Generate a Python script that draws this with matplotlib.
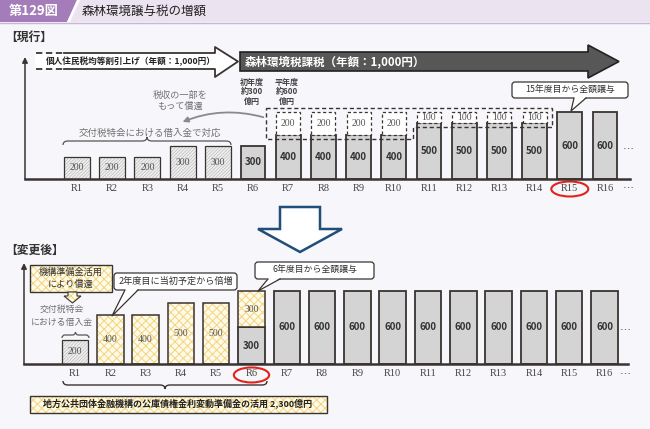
import numpy as np
import matplotlib.pyplot as plt
from matplotlib.patches import Polygon, Rectangle, FancyBboxPatch, Ellipse, FancyArrowPatch, PathPatch
from matplotlib.path import Path

plt.rcParams['font.family'] = ['Noto Sans CJK JP', 'DejaVu Sans']
plt.rcParams['hatch.linewidth'] = 0.7

# ==========================
# Data (億円)
# ==========================
years = [f'R{i}' for i in range(1, 17)]

# 現行
cur_loan = [200, 200, 200, 300, 300] + [0] * 11          # 交付税特会借入金
cur_tax = [0] * 5 + [300, 400, 400, 400, 400, 500, 500, 500, 500, 600, 600]
cur_future = [0] * 6 + [200] * 4 + [100] * 4 + [0, 0]     # 借入金償還分（点線）

# 変更後
new_loan = [200] + [0] * 15
new_tax = [0] * 5 + [300] + [600] * 10
new_reserve = [0, 400, 400, 500, 500, 300] + [0] * 10      # 機構準備金活用

# ==========================
# Style
# ==========================
BG = '#f7f6fa'
INK = '#3a3431'
GRAY_BAR = '#d4d4d4'
HATCH_FACE, HATCH_EDGE = '#efefef', '#b8b8b8'
YEL_FACE, YEL_EDGE = '#fffbea', '#f4d47c'
GRAY_TXT = '#707070'
RED = '#e2231a'
BLUE = '#1f4e7a'
SERIF = 'Liberation Serif'

W, H = 650, 429
fig = plt.figure(figsize=(6.5, 4.29), dpi=100, facecolor=BG)


def chart_axes(left, right, base, top, x0, step, upp):
    ax = fig.add_axes([left / W, 1 - base / H, (right - left) / W, (base - top) / H])
    ax.set_xlim((left - x0) / step, (right - x0) / step)
    ax.set_ylim(0, (base - top) * upp)
    ax.patch.set_alpha(0)
    for s in ['top', 'right', 'left']:
        ax.spines[s].set_visible(False)
    ax.spines['bottom'].set_linewidth(1.8)
    ax.spines['bottom'].set_color(INK)
    ax.set_yticks([])
    x = np.arange(len(years))
    ax.set_xticks(x)
    ax.set_xticklabels(years, fontfamily=SERIF, fontsize=7.5, color='#444')
    ax.tick_params(axis='x', length=0, pad=3.5)
    # y axis arrow
    ax.annotate('', xy=(ax.get_xlim()[0], (base - top - 5) * upp),
                xytext=(ax.get_xlim()[0], 0), annotation_clip=False,
                arrowprops=dict(arrowstyle='-|>', color=INK, lw=1.1,
                                mutation_scale=8, shrinkA=0, shrinkB=0))
    return ax, x


def bars(ax, x, vals, bottom=None, kind='gray', width=0.74):
    vals = np.array(vals, dtype=float)
    bottom = np.zeros_like(vals) if bottom is None else np.array(bottom, dtype=float)
    m = vals > 0
    xs, vs, bs = x[m], vals[m], bottom[m]
    if kind == 'gray':
        ax.bar(xs, vs, width, bottom=bs, color=GRAY_BAR, edgecolor=INK, lw=1.3, zorder=2)
        font = dict(fontsize=7, weight='bold', color='#333')
    elif kind == 'hatch':
        with plt.rc_context({'hatch.linewidth': 0.45}):
            ax.bar(xs, vs, width, bottom=bs, color=HATCH_FACE, edgecolor=HATCH_EDGE,
                   hatch='//////////', lw=0, zorder=2)
        ax.bar(xs, vs, width, bottom=bs, fill=False, edgecolor=INK, lw=0.9, zorder=2)
        font = dict(fontsize=7, fontfamily=SERIF, color='#555')
    elif kind == 'yellow':
        ax.bar(xs, vs, width, bottom=bs, color=YEL_FACE, edgecolor=YEL_EDGE,
               hatch='xxxx', lw=0, zorder=2)
        ax.bar(xs, vs, width, bottom=bs, fill=False, edgecolor=INK, lw=1.1, zorder=2)
        font = dict(fontsize=7, fontfamily=SERIF, color='#555')
    else:  # dashed future
        ax.bar(xs, vs, width * 0.95, bottom=bs, color='white', edgecolor=INK,
               lw=0.9, linestyle=(0, (2.5, 2)), zorder=3)
        font = dict(fontsize=7, fontfamily=SERIF, color='#555')
    for xi, v, b in zip(xs, vs, bs):
        ax.text(xi, b + v / 2, f'{v:.0f}', ha='center', va='center', zorder=5, **font)


# ==========================
# 現行
# ==========================
ax1, x1 = chart_axes(25, 630, 179, 52, 77, 35.2, 9.0)
bars(ax1, x1, cur_loan, kind='hatch')
bars(ax1, x1, cur_tax, kind='gray', width=0.7)
bars(ax1, x1, cur_future, bottom=cur_tax, kind='dashed', width=0.72)

fut = np.array(cur_future)
i200 = np.where(fut == 200)[0]
i100 = np.where(fut == 100)[0]
top_y = max(np.array(cur_tax) + fut) + 40
xl, xm, xr = i200[0] - 0.62, i200[-1] + 0.55, i100[-1] + 0.5
yb1, yb2 = cur_tax[i200[0]] - 40, cur_tax[i100[0]] - 32
ax1.add_patch(Polygon([(xl, top_y), (xr, top_y), (xr, yb2), (xm, yb2), (xm, yb1), (xl, yb1)],
                      closed=True, fill=False, edgecolor=INK, lw=1.0,
                      linestyle=(0, (3, 2)), zorder=4))
ax1.add_patch(Ellipse((14, -90), 1.05, 135, fill=False, edgecolor=RED, lw=1.5, clip_on=False))
ax1.text(15.65, 261, '…', ha='center', va='center', fontsize=8, color='#333')
ax1.text(15.65, -90, '…', ha='center', va='center', fontsize=8, color='#333', clip_on=False)

# ==========================
# 変更後
# ==========================
ax2, x2 = chart_axes(24, 628, 364, 258, 75, 35.3, 8.2)
bars(ax2, x2, new_loan, kind='hatch', width=0.74)
bars(ax2, x2, new_tax, kind='gray', width=0.75)
bars(ax2, x2, new_reserve, bottom=new_tax, kind='yellow', width=0.75)
ax2.add_patch(Ellipse((5, -90), 1.0, 123, fill=False, edgecolor=RED, lw=1.5, clip_on=False))
ax2.text(15.6, 270, '…', ha='center', va='center', fontsize=8, color='#333')
ax2.text(15.6, -90, '…', ha='center', va='center', fontsize=8, color='#333', clip_on=False)

# ==========================
# Overlay (pixel coordinates)
# ==========================
ov = fig.add_axes([0, 0, 1, 1], zorder=5)
ov.set_xlim(0, W)
ov.set_ylim(H, 0)
ov.axis('off')
ov.patch.set_alpha(0)

# header
ov.add_patch(Rectangle((0, 0), W, 22, color='#ebe3f0', lw=0))
ov.add_patch(Polygon([(0, 0), (77, 0), (67, 22), (0, 22)], color='#a47cba', lw=0))
ov.add_patch(Polygon([(77, 0), (80, 0), (70, 22), (67, 22)], color='white', lw=0))
ov.plot([0, W], [22.5, 22.5], color='#c9b6d6', lw=1)
ov.text(34, 11.5, '第129図', color='white', fontsize=9.5, weight='bold', ha='center', va='center')
ov.text(82, 11.5, '森林環境譲与税の増額', fontsize=9, color='#222', va='center')

ov.text(5, 37, '【現行】', fontsize=8.5, weight='bold', color='#333', va='center')
ov.text(5, 250, '【変更後】', fontsize=8.5, weight='bold', color='#333', va='center')


def lines(x, y0, dy, rows, **kw):
    for k, r in enumerate(rows):
        ov.text(x, y0 + k * dy, r, ha='center', va='center', **kw)


def brace(x0, x1, y, h, r=5, **kw):
    xc = (x0 + x1) / 2
    verts = [(x0, y + h), (x0, y), (x0 + r, y), (xc - r, y), (xc, y), (xc, y - h),
             (xc, y), (xc + r, y), (x1 - r, y), (x1, y), (x1, y + h)]
    codes = [Path.MOVETO, Path.CURVE3, Path.CURVE3, Path.LINETO, Path.CURVE3, Path.CURVE3,
             Path.CURVE3, Path.CURVE3, Path.LINETO, Path.CURVE3, Path.CURVE3]
    ov.add_patch(PathPatch(Path(verts, codes), fill=False, **kw))


def bubble(x, y, w, h, text, tail, tip, fs=6.4):
    ov.add_patch(FancyBboxPatch((x, y), w, h, boxstyle='round,pad=0,rounding_size=3',
                                fc='white', ec=INK, lw=0.9, zorder=3))
    b0, b1 = tail
    ov.add_patch(Polygon([(b0, y + h - 1), (b1, y + h - 1), tip], closed=True,
                         fc='white', ec='none', zorder=4))
    ov.plot([b0, tip[0], b1], [y + h, tip[1], y + h], color=INK, lw=0.9, zorder=4)
    ov.text(x + w / 2, y + h / 2, text, ha='center', va='center', fontsize=fs,
            color='#333', zorder=5)


# 個人住民税 arrow
ov.add_patch(Polygon([(35, 53), (215, 53), (215, 47), (238, 61.5), (215, 77), (215, 69), (35, 69)],
                     closed=True, fc='white', ec='none'))
ov.plot([64, 215, 215, 238, 215, 215, 64], [53, 53, 47, 61.5, 77, 69, 69], color=INK, lw=1.3)
ov.plot([36, 64], [53, 53], color=INK, lw=1.3, linestyle=(0, (3.5, 2)))
ov.plot([36, 64], [69, 69], color=INK, lw=1.3, linestyle=(0, (3.5, 2)))
ov.text(46, 61.5, '個人住民税均等割引上げ（年額：1,000円）', fontsize=6.2, weight='bold',
        color='#222', va='center')

# 森林環境税 arrow
ov.add_patch(Polygon([(240, 52), (588, 52), (588, 45), (619, 61.5), (588, 78), (588, 71), (240, 71)],
                     closed=True, fc='#575757', ec='#222', lw=1.2))
ov.text(245, 61.5, '森林環境税課税（年額：1,000円）', fontsize=8.3, weight='bold',
        color='white', va='center')

lines(252, 82, 9.5, ['初年度', '約300', '億円'], fontsize=5.8, weight='bold', color='#444')
lines(287, 82, 9.5, ['平年度', '約600', '億円'], fontsize=5.8, weight='bold', color='#444')

lines(180, 95, 11, ['税収の一部を', 'もって償還'], fontsize=6.6, color=GRAY_TXT)
ov.add_patch(FancyArrowPatch((266, 118), (180, 123), connectionstyle='arc3,rad=0.18',
                             arrowstyle='-|>', mutation_scale=8, color='#8a8a8a', lw=1.3))
ov.text(150, 133, '交付税特会における借入金で対応', fontsize=6.8, color=GRAY_TXT,
        ha='center', va='center')
brace(63, 231, 141, 4, color='#555', lw=0.9)

bubble(512, 82, 116, 16, '15年度目から全額譲与', (574, 586), (571, 111))

# down arrow
ov.add_patch(Polygon([(280, 207), (320, 207), (320, 229), (342, 229), (300, 252), (258, 229), (280, 229)],
                     closed=True, fc='white', ec=BLUE, lw=1.8, joinstyle='miter'))

# 変更後 annotations
ov.add_patch(Rectangle((30, 265), 82, 27, fc=YEL_FACE, ec=YEL_EDGE, hatch='xxxx', lw=0))
ov.add_patch(Rectangle((30, 265), 82, 27, fill=False, ec=INK, lw=1.0))
lines(71, 272, 12.5, ['機構準備金活用', 'により償還'], fontsize=6.6, color='#333')
arrow_pts = [(68, 292), (77, 292), (77, 296), (81, 296), (72.5, 303), (64, 296), (68, 296)]
ov.add_patch(Polygon(arrow_pts, closed=True, fc=YEL_FACE, ec=YEL_EDGE, hatch='xxxx', lw=0))
ov.add_patch(Polygon(arrow_pts, closed=True, fill=False, ec=INK, lw=0.8))
lines(62, 309, 14, ['交付税特会', 'における借入金'], fontsize=6.4, color=GRAY_TXT)
brace(62, 89, 335, 3, r=3, color='#555', lw=0.9)

bubble(114, 273, 123, 17, '2年度目に当初予定から倍増', (125, 138), (112, 316), fs=6.6)
bubble(255, 262, 119, 17, '6年度目から全額譲与', (268, 280), (258, 291), fs=6.4)

brace(63, 267, 385, -4, color=INK, lw=1.0)

ov.add_patch(Rectangle((30, 396), 297, 17, fc=YEL_FACE, ec=YEL_EDGE, hatch='xxxx', lw=0))
ov.add_patch(Rectangle((30, 396), 297, 17, fill=False, ec=INK, lw=1.0))
ov.text(178, 404.5, '地方公共団体金融機構の公庫債権金利変動準備金の活用 2,300億円',
        fontsize=6.5, weight='bold', color='#222', ha='center', va='center')

fig.savefig('out.png', dpi=100, facecolor=BG)
